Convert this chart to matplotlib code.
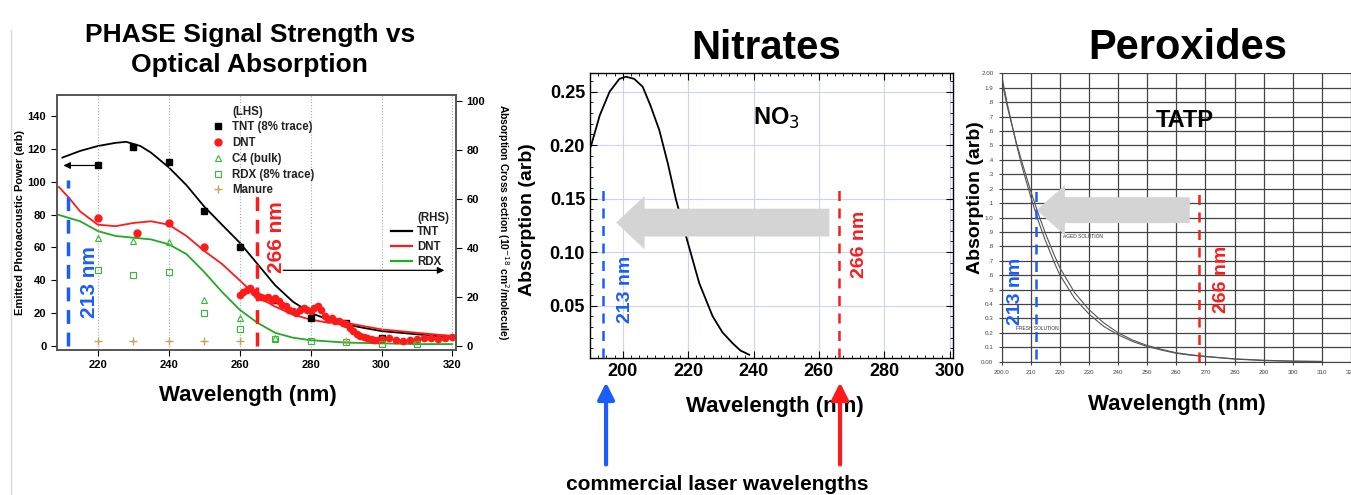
import matplotlib
matplotlib.use("Agg")
import matplotlib.pyplot as plt
from matplotlib.lines import Line2D
from matplotlib.patches import FancyArrowPatch
from matplotlib.ticker import MultipleLocator
import numpy as np

plt.rcParams['font.family'] = ['Liberation Sans', 'DejaVu Sans']

# ---------------- panel 1 data (PHASE signal vs absorption) ----------------
# LHS markers (emitted photoacoustic power, arb)
tnt_pts_x = [220, 230, 240, 250, 260, 270, 280, 290, 300]
tnt_pts_y = [110, 121, 112, 82, 60, 28, 17, 14, 5]
dnt_pts_x = [220, 231, 240, 250]
dnt_pts_y = [78, 69, 75, 60]
dnt_dense_x = [260, 261, 262, 263, 264, 265, 266, 267, 268, 269, 270, 271, 272, 273,
               274, 275, 276, 277, 278, 279, 280, 281, 282, 283, 284, 285, 286, 287,
               288, 289, 290, 291, 292, 293, 294, 295, 296, 297, 298, 299, 300, 302,
               304, 306, 308, 310, 312, 314, 316, 318, 320]
dnt_dense_y = [31, 33, 34, 35, 33, 31, 30, 29, 30, 28, 29, 27, 25, 24,
               22, 21, 20, 22, 23, 22, 21, 23, 24, 22, 18, 16, 17, 15,
               15, 14, 13, 11, 9, 7, 6, 5.5, 5, 4, 3.5, 3.5, 4, 4.5,
               3.5, 3, 3.5, 4, 5, 4.5, 4, 5, 5.5]
c4_x = [220, 230, 240, 250, 260, 270]
c4_y = [66, 64, 63, 28, 17, 5]
rdx_pts_x = [220, 230, 240, 250, 260, 270, 280, 290, 300, 310]
rdx_pts_y = [46, 43, 45, 20, 10, 4, 3, 2, 1, 1]
manure_x = [220, 230, 240, 250, 260, 290]
manure_y = [3, 3, 3, 3, 3, 3]

# RHS curves (absorption cross section, 1e-18 cm^2/molecule)
tnt_curve_x = [210, 215, 220, 225, 228, 232, 235, 240, 245, 250, 255, 260, 265, 270,
               275, 280, 285, 290, 295, 300, 310, 320]
tnt_curve_y = [76.8, 79.5, 81.5, 82.8, 83.2, 81.5, 78.8, 72.8, 65.5, 56.8, 49.4, 42.1,
               33.4, 24.7, 18.0, 13.4, 10.7, 8.7, 7.3, 6.0, 4.7, 3.3]
dnt_curve_x = [209, 212, 215, 220, 225, 230, 235, 240, 245, 250, 255, 260, 265, 270,
               275, 280, 285, 290, 295, 300, 310, 320]
dnt_curve_y = [64.8, 60.1, 54.8, 49.4, 48.8, 50.1, 50.8, 49.4, 44.8, 38.7, 33.4, 26.7,
               20.0, 16.0, 12.7, 10.7, 9.4, 9.4, 8.0, 6.7, 5.3, 4.0]
rdx_curve_x = [209, 215, 220, 225, 230, 235, 240, 245, 250, 255, 260, 265, 270, 275,
               280, 290, 300, 310, 320]
rdx_curve_y = [53.4, 50.8, 46.8, 44.8, 44.1, 43.4, 41.4, 37.4, 30.1, 22.0, 14.7, 9.4,
               5.3, 3.3, 2.3, 1.3, 1.0, 0.7, 0.7]

# ---------------- panel 2 data (nitrates) ----------------
no3_x = [190.3, 193, 196, 199, 201, 203.5, 206.1, 208.5, 211.2, 213.8, 216.3, 219.4,
         223.4, 227.5, 230.5, 233.6, 236, 238.7]
no3_y = [0.199, 0.228, 0.250, 0.262, 0.264, 0.262, 0.2547, 0.237, 0.214, 0.183, 0.149,
         0.1145, 0.071, 0.040, 0.025, 0.0148, 0.008, 0.004]

# ---------------- panel 3 data (peroxides, TATP) ----------------
tatp_x = [200, 202, 205, 207, 210, 213, 215, 218, 220, 225, 230, 235, 240, 245, 250,
          255, 260, 265, 270, 280, 290, 300, 310]
tatp_fresh = [1.98, 1.78, 1.51, 1.35, 1.14, 0.95, 0.84, 0.69, 0.60, 0.44, 0.33, 0.245,
              0.186, 0.14, 0.105, 0.08, 0.058, 0.045, 0.035, 0.018, 0.008, 0.003, 0.001]
tatp_aged = [1.95, 1.76, 1.52, 1.38, 1.18, 1.00, 0.89, 0.74, 0.65, 0.48, 0.36, 0.27,
             0.20, 0.15, 0.112, 0.085, 0.062, 0.048, 0.037, 0.020, 0.010, 0.004, 0.002]
tatp_ytick_labels = ['0.00', '0.1', '0.2', '0.3', '0.4', '.5', '.6', '.7', '.8', '.9',
                     '1.0', '.1', '.2', '.3', '.4', '.5', '.6', '.7', '.8', '1.9', '2.00']
tatp_xtick_labels = ['200.0', '210', '220', '230', '240', '250', '260', '270', '280',
                     '290', '300', '310', '320']

BLUE = '#1a5cff'
RED = '#ff1a1a'
ARROW_GRAY = '#d4d4d4'

fig = plt.figure(figsize=(13.51, 4.95), dpi=100)

# thin gray line on the far left
fig.add_artist(Line2D([0.0078, 0.0078], [0.0, 0.94], color='#d8d8d8', lw=1))

# ======================= panel 1 =======================
ax1 = fig.add_axes([0.042, 0.293, 0.2955, 0.515])
ax1r = ax1.twinx()
ax1.set_xlim(208.4, 321)
ax1.set_ylim(-2.6, 153)
ax1r.set_ylim(-1.7, 102.3)

for xv in range(220, 321, 20):
    ax1.axvline(xv, color='#aaaaaa', ls=':', lw=0.8, zorder=0)

ax1r.plot(tnt_curve_x, tnt_curve_y, color='black', lw=1.3)
ax1r.plot(dnt_curve_x, dnt_curve_y, color=RED, lw=1.3)
ax1r.plot(rdx_curve_x, rdx_curve_y, color='#22aa22', lw=1.3)

ax1r.plot([], [], ' ', label='(RHS)')
ax1r.plot([], [], color='black', lw=1.6, label='TNT')
ax1r.plot([], [], color=RED, lw=1.6, label='DNT')
ax1r.plot([], [], color='#22aa22', lw=1.6, label='RDX')

ax1.set_zorder(ax1r.get_zorder() + 1)
ax1.patch.set_visible(False)

ax1.plot([], [], ' ', label='(LHS)')
ax1.plot(tnt_pts_x, tnt_pts_y, 's', color='black', ms=5, label='TNT (8% trace)')
ax1.plot(dnt_pts_x, dnt_pts_y, 'o', color=RED, ms=5, label='DNT')
ax1.plot(dnt_dense_x, dnt_dense_y, 'o', color=RED, ms=4.5)
ax1.plot(c4_x, c4_y, '^', mfc='none', mec='#33bb33', ms=5, mew=0.8, label='C4 (bulk)')
ax1.plot(rdx_pts_x, rdx_pts_y, 's', mfc='none', mec='#33bb33', ms=5, mew=0.8,
         label='RDX (8% trace)')
ax1.plot(manure_x, manure_y, '+', color='#c8a060', ms=6, mew=1, label='Manure')

ax1.plot([211.5, 211.5], [0, 101], color=BLUE, ls=(0, (4, 2.5)), lw=2.5)
ax1.plot([265, 265], [0, 92], color=RED, ls=(0, (4, 2.5)), lw=2.5)
ax1.text(217.5, 39, '213 nm', color=BLUE, rotation=90, fontsize=15, fontweight='bold',
         ha='center', va='center')
ax1.text(270.5, 66, '266 nm', color=RED, rotation=90, fontsize=15, fontweight='bold',
         ha='center', va='center')

ax1.annotate('', xy=(209.5, 110), xytext=(220, 110),
             arrowprops=dict(arrowstyle='-|>', color='black', lw=0.9, mutation_scale=10))
ax1.annotate('', xy=(318.5, 46), xytext=(271.5, 46),
             arrowprops=dict(arrowstyle='-|>', color='black', lw=0.9, mutation_scale=10))

leg1 = ax1.legend(loc='upper left', bbox_to_anchor=(0.37, 0.985), frameon=False,
                  fontsize=8.3, handlelength=1.2, handletextpad=0.6, labelspacing=0.32,
                  borderpad=0.1)
leg1r = ax1r.legend(loc='upper right', bbox_to_anchor=(1.0, 0.57), frameon=False,
                    fontsize=8.3, handlelength=1.9, handletextpad=0.4, labelspacing=0.25,
                    borderpad=0.1)
for leg in (leg1, leg1r):
    for t in leg.get_texts():
        t.set_fontweight('bold')
        t.set_color('#222222')

ax1.set_xticks(range(220, 321, 20))
ax1.set_yticks(range(0, 141, 20))
ax1r.set_yticks(range(0, 101, 20))
for a in (ax1, ax1r):
    a.tick_params(labelsize=8, length=4, width=0.8)
    for lab in a.get_xticklabels() + a.get_yticklabels():
        lab.set_fontweight('bold')
    for s in a.spines.values():
        s.set_color('#555555')
        s.set_linewidth(1.2)

ax1.set_xlabel('Wavelength (nm)', fontsize=16, fontweight='bold', va='center')
ax1.xaxis.set_label_coords(0.48, -0.18)
ax1.set_ylabel('Emitted Photoacoustic Power (arb)', fontsize=8, fontweight='bold',
               va='center')
ax1.yaxis.set_label_coords(-0.093, 0.5)
ax1r.set_ylabel('Absorption Cross section (10$^{-18}$ cm$^2$/molecule)', fontsize=7.5,
                fontweight='bold', rotation=270, va='center')
ax1r.yaxis.set_label_coords(1.118, 0.5)

fig.text(0.185, 0.899, 'PHASE Signal Strength vs\nOptical Absorption', ha='center',
         va='center', fontsize=19, fontweight='bold', linespacing=1.35)

# ======================= panel 2 =======================
ax2 = fig.add_axes([0.4367, 0.2768, 0.2687, 0.5758])
ax2.set_xlim(190, 301)
ax2.set_ylim(0.001, 0.2675)
ax2.set_xticks(range(200, 301, 20))
ax2.set_yticks([0.05, 0.10, 0.15, 0.20, 0.25])
ax2.set_yticklabels(['0.05', '0.10', '0.15', '0.20', '0.25'])
ax2.xaxis.set_minor_locator(MultipleLocator(2.5))
ax2.yaxis.set_minor_locator(MultipleLocator(0.01))
ax2.grid(True, which='major', color='#cdd3f0', lw=0.8)
ax2.tick_params(which='both', direction='in', top=True, right=True)
ax2.tick_params(which='major', length=5, labelsize=13)
ax2.tick_params(which='minor', length=2.5, width=0.6)
for lab in ax2.get_xticklabels() + ax2.get_yticklabels():
    lab.set_fontweight('bold')
for s in ax2.spines.values():
    s.set_linewidth(1.0)

ax2.plot(no3_x, no3_y, color='black', lw=1.3)
ax2.arrow(263.2, 0.1276, 198 - 263.2, 0, width=0.026, head_width=0.05, head_length=8.7,
          length_includes_head=True, fc=ARROW_GRAY, ec='none', zorder=3)
ax2.plot([194, 194], [0.001, 0.158], color=BLUE, ls=(0, (4, 3)), lw=1.8, zorder=4)
ax2.plot([266, 266], [0.001, 0.159], color=RED, ls=(0, (4, 3)), lw=1.8, zorder=4)
ax2.text(201, 0.065, '213 nm', color=BLUE, rotation=90, fontsize=14, fontweight='bold',
         ha='center', va='center')
ax2.text(272.4, 0.107, '266 nm', color=RED, rotation=90, fontsize=14, fontweight='bold',
         ha='center', va='center')
ax2.text(247, 0.225, 'NO$_3$', fontsize=17, fontweight='bold', ha='center', va='center')

ax2.set_xlabel('Wavelength (nm)', fontsize=16, fontweight='bold', va='center')
ax2.xaxis.set_label_coords(0.51, -0.17)
ax2.set_ylabel('Absorption (arb)', fontsize=14, fontweight='bold', va='center')
ax2.yaxis.set_label_coords(-0.171, 0.485)

fig.text(0.567, 0.903, 'Nitrates', ha='center', va='center', fontsize=29,
         fontweight='bold')

# laser wavelength arrows below nitrates panel
fig.add_artist(FancyArrowPatch(
    (0.4486, 0.056), (0.4486, 0.233), transform=fig.transFigure, color=BLUE,
    arrowstyle='-|>,head_width=5,head_length=10', lw=3))
fig.add_artist(FancyArrowPatch(
    (0.6218, 0.056), (0.6218, 0.233), transform=fig.transFigure, color=RED,
    arrowstyle='-|>,head_width=5,head_length=10', lw=3))
fig.text(0.531, 0.01, 'commercial laser wavelengths', ha='center', va='baseline',
         fontsize=15, fontweight='bold')

# ======================= panel 3 =======================
ax3 = fig.add_axes([0.7415, 0.2693, 0.2585, 0.5826])
ax3.set_xlim(200, 320)
ax3.set_ylim(0, 2.0)
ax3.set_xticks(range(200, 321, 10))
ax3.set_xticklabels(tatp_xtick_labels)
ax3.set_yticks(np.arange(0, 2.01, 0.1))
ax3.set_yticklabels(tatp_ytick_labels)
ax3.grid(True, color='#444444', lw=0.9)
ax3.tick_params(labelsize=4.5, length=2.5, colors='#444444')
ax3.spines['top'].set_visible(False)
ax3.spines['right'].set_visible(False)
for s in ('left', 'bottom'):
    ax3.spines[s].set_color('#444444')

ax3.plot(tatp_x, tatp_fresh, color='#555555', lw=0.8)
ax3.plot(tatp_x, tatp_aged, color='#555555', lw=0.8)
ax3.text(221, 0.87, 'AGED SOLUTION', fontsize=3.5, color='#333333', va='center')
ax3.text(205, 0.23, 'FRESH SOLUTION', fontsize=3.5, color='#333333', va='center')

ax3.arrow(264.6, 1.051, 212 - 264.6, 0, width=0.18, head_width=0.35, head_length=9.7,
          length_includes_head=True, fc=ARROW_GRAY, ec='none', zorder=3)
ax3.plot([211.8, 211.8], [0.02, 1.21], color=BLUE, ls=(0, (4, 3)), lw=1.8, zorder=4)
ax3.plot([267.7, 267.7], [0.0, 1.16], color=RED, ls=(0, (4, 3)), lw=1.8, zorder=4)
ax3.text(204.6, 0.49, '213 nm', color=BLUE, rotation=90, fontsize=14, fontweight='bold',
         ha='center', va='center', zorder=5)
ax3.text(275.4, 0.57, '266 nm', color=RED, rotation=90, fontsize=14, fontweight='bold',
         ha='center', va='center', zorder=5)
ax3.text(263, 1.67, 'TATP', fontsize=17, fontweight='bold', ha='center', va='center',
         zorder=5)

ax3.set_xlabel('Wavelength (nm)', fontsize=16, fontweight='bold', va='center')
ax3.xaxis.set_label_coords(0.5, -0.15)
ax3.set_ylabel('Absorption (arb)', fontsize=14, fontweight='bold', va='center')
ax3.yaxis.set_label_coords(-0.076, 0.568)

fig.text(0.879, 0.903, 'Peroxides', ha='center', va='center', fontsize=30,
         fontweight='bold')

fig.savefig('out.png', dpi=100)
